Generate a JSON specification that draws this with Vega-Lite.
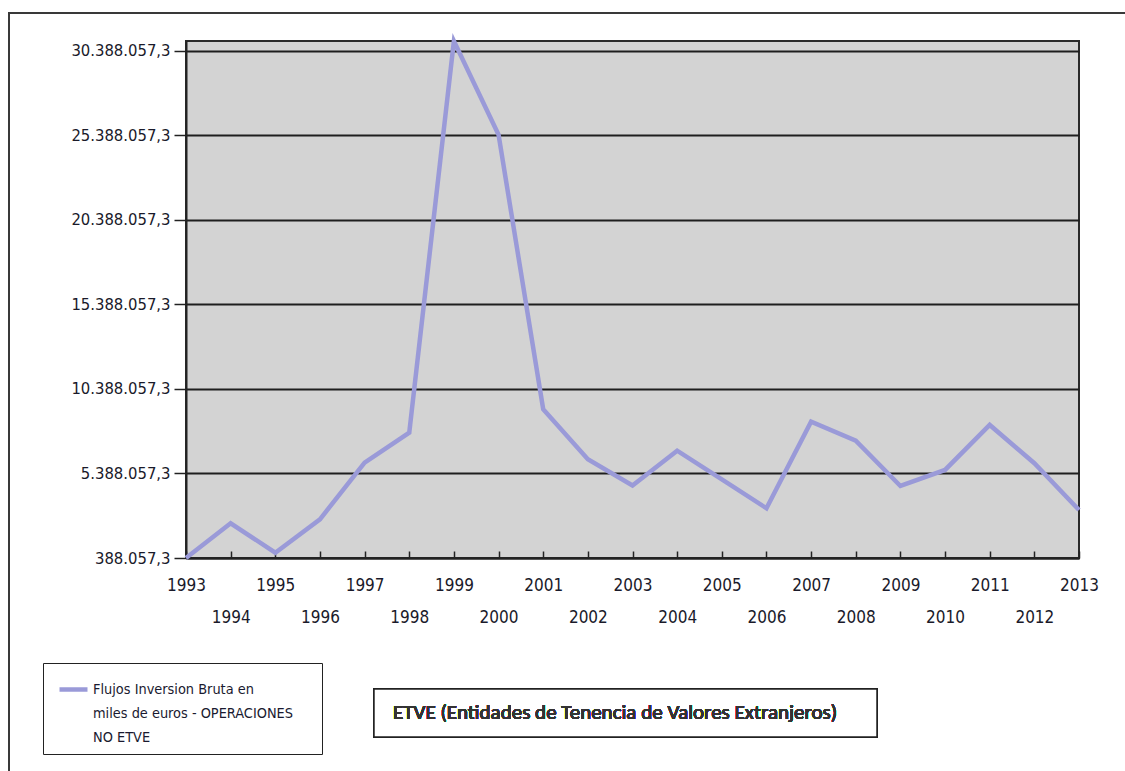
{
  "$schema": "https://vega.github.io/schema/vega-lite/v6.json",
  "autosize": {"type": "none"},
  "padding": {"left": 186, "top": 41, "right": 46, "bottom": 213},
  "width": 893,
  "height": 517,
  "background": "white",
  "data": {
    "values": [
      {"year": 1993, "valor": 388057.3, "serie": "Flujos Inversion Bruta en miles de euros - OPERACIONES NO ETVE"},
      {"year": 1994, "valor": 2441000, "serie": "Flujos Inversion Bruta en miles de euros - OPERACIONES NO ETVE"},
      {"year": 1995, "valor": 702000, "serie": "Flujos Inversion Bruta en miles de euros - OPERACIONES NO ETVE"},
      {"year": 1996, "valor": 2678000, "serie": "Flujos Inversion Bruta en miles de euros - OPERACIONES NO ETVE"},
      {"year": 1997, "valor": 6027000, "serie": "Flujos Inversion Bruta en miles de euros - OPERACIONES NO ETVE"},
      {"year": 1998, "valor": 7802000, "serie": "Flujos Inversion Bruta en miles de euros - OPERACIONES NO ETVE"},
      {"year": 1999, "valor": 30962000, "serie": "Flujos Inversion Bruta en miles de euros - OPERACIONES NO ETVE"},
      {"year": 2000, "valor": 25418000, "serie": "Flujos Inversion Bruta en miles de euros - OPERACIONES NO ETVE"},
      {"year": 2001, "valor": 9187000, "serie": "Flujos Inversion Bruta en miles de euros - OPERACIONES NO ETVE"},
      {"year": 2002, "valor": 6228000, "serie": "Flujos Inversion Bruta en miles de euros - OPERACIONES NO ETVE"},
      {"year": 2003, "valor": 4680000, "serie": "Flujos Inversion Bruta en miles de euros - OPERACIONES NO ETVE"},
      {"year": 2004, "valor": 6737000, "serie": "Flujos Inversion Bruta en miles de euros - OPERACIONES NO ETVE"},
      {"year": 2005, "valor": 5033000, "serie": "Flujos Inversion Bruta en miles de euros - OPERACIONES NO ETVE"},
      {"year": 2006, "valor": 3329000, "serie": "Flujos Inversion Bruta en miles de euros - OPERACIONES NO ETVE"},
      {"year": 2007, "valor": 8453000, "serie": "Flujos Inversion Bruta en miles de euros - OPERACIONES NO ETVE"},
      {"year": 2008, "valor": 7329000, "serie": "Flujos Inversion Bruta en miles de euros - OPERACIONES NO ETVE"},
      {"year": 2009, "valor": 4648000, "serie": "Flujos Inversion Bruta en miles de euros - OPERACIONES NO ETVE"},
      {"year": 2010, "valor": 5595000, "serie": "Flujos Inversion Bruta en miles de euros - OPERACIONES NO ETVE"},
      {"year": 2011, "valor": 8258000, "serie": "Flujos Inversion Bruta en miles de euros - OPERACIONES NO ETVE"},
      {"year": 2012, "valor": 5992000, "serie": "Flujos Inversion Bruta en miles de euros - OPERACIONES NO ETVE"},
      {"year": 2013, "valor": 3228000, "serie": "Flujos Inversion Bruta en miles de euros - OPERACIONES NO ETVE"}
    ]
  },
  "layer": [
    {
      "mark": {"type": "rect", "fill": null, "fillOpacity": 0, "stroke": "#3a3a3a", "strokeWidth": 1.5, "clip": false},
      "encoding": {
        "x": {"datum": 1989.04, "type": "quantitative"},
        "x2": {"datum": 2014.3},
        "y": {"datum": 32617700, "type": "quantitative"},
        "y2": {"datum": -12800000}
      }
    },
    {
      "mark": {"type": "line", "strokeWidth": 4.5, "strokeJoin": "miter", "clip": false},
      "encoding": {
        "x": {
          "field": "year",
          "type": "quantitative",
          "title": null,
          "scale": {"domain": [1993, 2013], "nice": false, "zero": false},
          "axis": {
            "values": [1993, 1994, 1995, 1996, 1997, 1998, 1999, 2000, 2001, 2002, 2003, 2004, 2005, 2006, 2007, 2008, 2009, 2010, 2011, 2012, 2013],
            "format": "d",
            "labelExpr": "datum.value % 2 == 1 ? datum.label : ['', datum.label]",
            "labelOverlap": false,
            "labelFlush": false,
            "labelBaseline": "top",
            "labelLineHeight": 32,
            "labelFontSize": 17,
            "tickSize": -7,
            "labelPadding": 26,
            "grid": false,
            "domainColor": "#222",
            "domainWidth": 2,
            "tickColor": "#222",
            "tickWidth": 1.5
          }
        },
        "y": {
          "field": "valor",
          "type": "quantitative",
          "title": null,
          "scale": {"domain": [388057.3, 30962000], "nice": false, "zero": false},
          "axis": {
            "values": [388057.3, 5388057.3, 10388057.3, 15388057.3, 20388057.3, 25388057.3, 30388057.3],
            "format": ",.1f",
            "labelOverlap": false,
            "labelFlush": false,
            "labelFontSize": 16.5,
            "tickSize": 12,
            "labelPadding": 4,
            "grid": true,
            "gridColor": "#1e1e1e",
            "gridWidth": 1.8,
            "gridOpacity": 1,
            "domainColor": "#222",
            "domainWidth": 2,
            "tickColor": "#222",
            "tickWidth": 1.5
          }
        },
        "color": {
          "field": "serie",
          "type": "nominal",
          "scale": {"range": ["#9a9ad8"]},
          "legend": {
            "orient": "none",
            "legendX": -143,
            "legendY": 622,
            "title": null,
            "symbolType": "stroke",
            "symbolSize": 784,
            "symbolStrokeWidth": 4.5,
            "symbolOffset": 4,
            "labelOffset": 3,
            "padding": 10,
            "strokeColor": "#222",
            "fillColor": "white",
            "labelFont": "DejaVu Sans Condensed, sans-serif",
            "labelFontSize": 14.4,
            "labelColor": "#1a1a30",
            "labelLimit": 400,
            "labelExpr": "['Flujos Inversion Bruta en', 'miles de euros - OPERACIONES\u2800\u2800', 'NO ETVE']",
            "encode": {"labels": {"update": {"lineHeight": {"value": 24}}}}
          }
        }
      }
    },
    {
      "mark": {"type": "rect", "fill": "white", "stroke": "#222", "strokeWidth": 1.5, "clip": false},
      "encoding": {
        "x": {"datum": 1997.21, "type": "quantitative"},
        "x2": {"datum": 2008.476},
        "y": {"datum": -7358900, "type": "quantitative"},
        "y2": {"datum": -10197500}
      }
    },
    {
      "mark": {"type": "text", "align": "left", "baseline": "middle", "font": "Carlito, Lato", "fontSize": 21, "fontWeight": 400, "fill": "#333", "strokeWidth": 0, "clip": false},
      "encoding": {
        "x": {"datum": 1997.636, "type": "quantitative"},
        "y": {"datum": -8778200, "type": "quantitative"},
        "text": {"value": "ETVE (Entidades de Tenencia de Valores Extranjeros)"}
      }
    }
  ],
  "config": {
    "locale": {"number": {"decimal": ",", "thousands": ".", "grouping": [3], "currency": ["", " €"]}},
    "view": {"fill": "#d3d3d3", "stroke": "#2a2a2a", "strokeWidth": 2},
    "axis": {
      "labelFont": "DejaVu Sans Condensed, sans-serif",
      "labelColor": "#1a1a2a"
    }
  }
}
